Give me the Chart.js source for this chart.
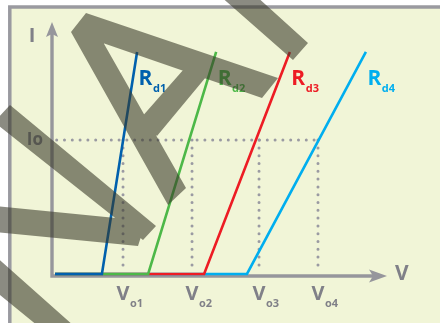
<!DOCTYPE html>
<html>
<head>
<meta charset="utf-8">
<script src="https://cdn.jsdelivr.net/npm/chart.js@4.4.1/dist/chart.umd.min.js"></script>
<style>
  html, body { margin: 0; padding: 0; background: #fff; }
  canvas { display: block; }
</style>
</head>
<body>
<canvas id="mycanvas" width="440" height="323"></canvas>
<script>
// curve values (V and I in arbitrary units)
var curveNames = ['d1', 'd2', 'd3', 'd4'];
var startV = 0.09;
var baseI = 0.08;
var kneeV = [1.49, 2.87, 4.54, 5.82];
var topV = [2.54, 4.90, 7.10, 9.37];
var topI = 8.82;
var ioValue = 5.35;
var voValues = [2.12, 4.18, 6.18, 7.94];
var voLabels = ['o1', 'o2', 'o3', 'o4'];

var curveColors = ['#0060ad', '#4db848', '#ed1c24', '#00aeef'];
var grayText = '#808088';
var axisColor = '#96969c';
var dotColor = '#9a9aa2';
var fontFam = '"Open Sans", "DejaVu Sans", sans-serif';

// the dark translucent strokes lying over the picture
var bands = [
    [[86, 13], [278, 78], [262, 98], [71, 32]],
    [[71, 32], [95, 28], [186, 188], [168, 205]],
    [[184, 69], [206, 77], [157, 136], [140, 119]],
    [[10, 105], [156, 226], [143, 240], [-6, 122]],
    [[-6, 206], [146, 221], [138, 246], [-6, 232]],
    [[-6, 255], [74, 326], [38, 326], [-6, 290]],
    [[219, -5], [255, -5], [308, 43], [293, 60]]
];

var datasets = [];
for (var i = 0; i < curveNames.length; i++) {
    datasets.push({
        label: 'R' + curveNames[i],
        data: [{x: startV, y: baseI}, {x: kneeV[i], y: baseI}, {x: topV[i], y: topI}],
        borderColor: curveColors[i],
        borderWidth: 2.6,
        pointRadius: 0,
        fill: false
    });
}
var dotted = {
    borderColor: dotColor,
    borderWidth: 3,
    borderDash: [0, 7.8],
    borderCapStyle: 'round',
    pointRadius: 0,
    fill: false
};
datasets.push(Object.assign({label: 'Io', data: [{x: startV + 0.05, y: ioValue}, {x: voValues[3], y: ioValue}]}, dotted));
for (var j = 0; j < voValues.length; j++) {
    datasets.push(Object.assign({label: 'V' + voLabels[j], data: [{x: voValues[j], y: ioValue}, {x: voValues[j], y: 0.2}]}, dotted));
}

function sub(ctx, big, small, x, y, bigSize, smallSize, color, drop) {
    ctx.fillStyle = color;
    ctx.textAlign = 'left';
    ctx.textBaseline = 'alphabetic';
    ctx.font = 'bold ' + bigSize + 'px ' + fontFam;
    ctx.fillText(big, x, y);
    var w = ctx.measureText(big).width;
    ctx.font = 'bold ' + smallSize + 'px ' + fontFam;
    ctx.fillText(small, x + w + 0.5, y + drop);
}

var decor = {
    id: 'decor',
    beforeDraw: function (chart) {
        var ctx = chart.ctx;
        ctx.save();
        ctx.fillStyle = '#ffffff';
        ctx.fillRect(0, 0, chart.width, chart.height);
        ctx.fillStyle = '#f1f5d7';
        ctx.fillRect(10, 7, chart.width, chart.height);
        ctx.strokeStyle = '#9a9aa0';
        ctx.lineWidth = 3.5;
        ctx.strokeRect(9.8, 7, chart.width + 20, chart.height + 20);
        ctx.restore();
    },
    beforeDatasetsDraw: function (chart) {
        var ctx = chart.ctx;
        var xs = chart.scales.x, ys = chart.scales.y;
        var x0 = xs.getPixelForValue(0), y0 = ys.getPixelForValue(0);
        var xEnd = chart.chartArea.right, yEnd = chart.chartArea.top;
        ctx.save();
        ctx.strokeStyle = axisColor;
        ctx.fillStyle = axisColor;
        ctx.lineWidth = 3.4;
        ctx.beginPath();
        ctx.moveTo(x0, yEnd + 12);
        ctx.lineTo(x0, y0 + 1.7);
        ctx.moveTo(x0 - 1.7, y0);
        ctx.lineTo(xEnd - 14, y0);
        ctx.stroke();
        // arrow heads
        ctx.beginPath();
        ctx.moveTo(x0, yEnd);
        ctx.lineTo(x0 + 6, yEnd + 15);
        ctx.lineTo(x0, yEnd + 12);
        ctx.lineTo(x0 - 6, yEnd + 15);
        ctx.closePath();
        ctx.fill();
        ctx.beginPath();
        ctx.moveTo(xEnd, y0);
        ctx.lineTo(xEnd - 18, y0 - 6.5);
        ctx.lineTo(xEnd - 14, y0);
        ctx.lineTo(xEnd - 18, y0 + 6.5);
        ctx.closePath();
        ctx.fill();
        ctx.restore();
    },
    afterDatasetsDraw: function (chart) {
        var ctx = chart.ctx;
        var xs = chart.scales.x, ys = chart.scales.y;
        var x0 = xs.getPixelForValue(0), y0 = ys.getPixelForValue(0);
        ctx.save();
        // curve names
        for (var i = 0; i < curveNames.length; i++) {
            var px = xs.getPixelForValue(topV[i]) + 1.5;
            var py = ys.getPixelForValue(topI) + 33;
            sub(ctx, 'R', curveNames[i], px, py, 21, 11, curveColors[i], 7);
        }
        // axis names
        ctx.fillStyle = grayText;
        ctx.font = 'bold 20px ' + fontFam;
        ctx.textAlign = 'center';
        ctx.fillText('I', x0 - 20, 42);
        ctx.textAlign = 'left';
        ctx.font = 'bold 21px ' + fontFam;
        ctx.fillText('V', chart.chartArea.right + 8, y0 + 4);
        ctx.textAlign = 'right';
        ctx.font = 'bold 17px ' + fontFam;
        ctx.fillText('Io', x0 - 9, ys.getPixelForValue(ioValue) + 5);
        // Vo ticks
        for (var j = 0; j < voValues.length; j++) {
            var vx = xs.getPixelForValue(voValues[j]);
            ctx.font = 'bold 20px ' + fontFam;
            var w = ctx.measureText('V').width;
            sub(ctx, 'V', voLabels[j], vx - w / 2, y0 + 24, 20, 11, grayText, 7);
        }
        ctx.restore();
    },
    afterDraw: function (chart) {
        var ctx = chart.ctx;
        ctx.save();
        ctx.fillStyle = 'rgba(55, 55, 40, 0.58)';
        ctx.beginPath();
        bands.forEach(function (poly) {
            ctx.moveTo(poly[0][0], poly[0][1]);
            for (var k = 1; k < poly.length; k++) ctx.lineTo(poly[k][0], poly[k][1]);
            ctx.closePath();
        });
        ctx.fill('nonzero');
        ctx.restore();
    }
};

var graphTarget = document.getElementById('mycanvas');
var chart = new Chart(graphTarget, {
    type: 'line',
    data: {datasets: datasets},
    options: {
        responsive: false,
        animation: false,
        devicePixelRatio: 1,
        layout: {padding: {left: 52, top: 22, right: 53, bottom: 47}},
        plugins: {legend: {display: false}, tooltip: {enabled: false}},
        scales: {
            x: {type: 'linear', min: 0, max: 10, display: false},
            y: {type: 'linear', min: 0, max: 10, display: false}
        }
    },
    plugins: [decor]
});
</script>
</body>
</html>
